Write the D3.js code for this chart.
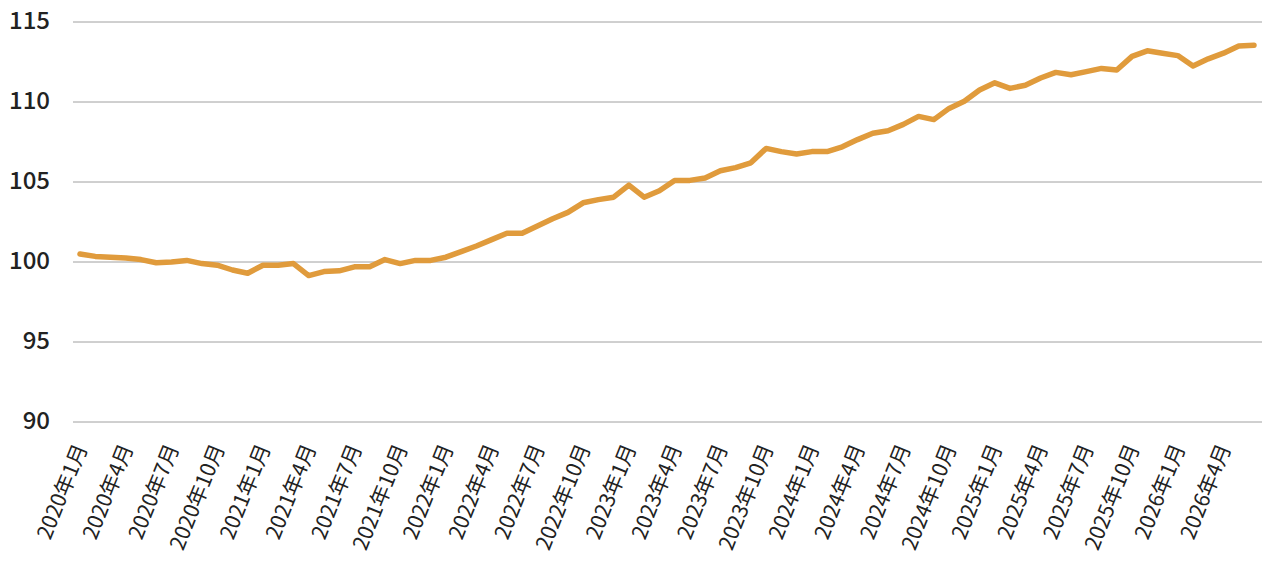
<!DOCTYPE html>
<html>
<head>
<meta charset="utf-8">
<script src="https://cdn.jsdelivr.net/npm/d3@7"></script>
<style>
  html, body { margin: 0; padding: 0; background: #fff; }
  svg { display: block; }
  text { font-family: "Noto Sans CJK JP", "Noto Sans", sans-serif; }
</style>
</head>
<body>
<svg id="chart" width="1280" height="575"></svg>
<script>
// Monthly index values, 2020年1月 .. 2026年6月
const months = [];
for (let y = 2020; y <= 2026; y++) {
  for (let m = 1; m <= 12; m++) {
    if (y === 2026 && m > 6) break;
    months.push(y + "年" + m + "月");
  }
}
const values = [
  100.5, 100.35, 100.3, 100.25, 100.15, 99.95, 100.0, 100.1, 99.9, 99.8, 99.5, 99.3,
  99.8, 99.8, 99.9, 99.15, 99.4, 99.45, 99.7, 99.7, 100.15, 99.9, 100.1, 100.1,
  100.3, 100.65, 101.0, 101.4, 101.8, 101.8, 102.25, 102.7, 103.1, 103.7, 103.9, 104.05,
  104.8, 104.05, 104.45, 105.1, 105.1, 105.25, 105.7, 105.9, 106.2, 107.1, 106.9, 106.75,
  106.9, 106.9, 107.2, 107.65, 108.05, 108.2, 108.6, 109.1, 108.9, 109.6, 110.05, 110.75,
  111.2, 110.85, 111.05, 111.5, 111.85, 111.7, 111.9, 112.1, 112.0, 112.85, 113.2, 113.05,
  112.9, 112.25, 112.7, 113.05, 113.5, 113.55
];
const yTicks = [90, 95, 100, 105, 110, 115];
const xTickLabels = months.filter((d, i) => i % 3 === 0);

const svg = d3.select("#chart");
const x = d3.scalePoint().domain(months).range([80, 1254]);
const y = d3.scaleLinear().domain([90, 115]).range([422, 22]);

// gridlines
svg.append("g").selectAll("line").data(yTicks).join("line")
  .attr("x1", 73).attr("x2", 1262)
  .attr("y1", d => y(d)).attr("y2", d => y(d))
  .attr("stroke", "#a0a0a0").attr("stroke-width", 1);

// y labels
svg.append("g").selectAll("text").data(yTicks).join("text")
  .attr("x", 50).attr("y", d => y(d)).attr("dy", "0.3em")
  .attr("text-anchor", "end")
  .attr("font-size", 24).attr("font-weight", 500).attr("fill", "#222")
  .text(d => d);

// x labels
svg.append("g").selectAll("text").data(xTickLabels).join("text")
  .attr("transform", d => `translate(${x(d) + 1},${445}) rotate(-68)`)
  .attr("dy", "0.35em")
  .attr("text-anchor", "end")
  .attr("font-size", 21).attr("fill", "#222")
  .text(d => d);

// line
const line = d3.line().x((d, i) => x(months[i])).y(d => y(d));
svg.append("path").datum(values)
  .attr("d", line)
  .attr("fill", "none")
  .attr("stroke", "#E09B3C")
  .attr("stroke-width", 5.5)
  .attr("stroke-linejoin", "round")
  .attr("stroke-linecap", "round");
</script>
</body>
</html>
